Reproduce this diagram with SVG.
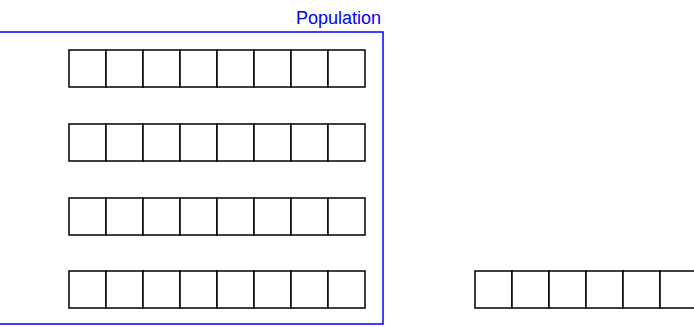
<svg xmlns="http://www.w3.org/2000/svg" width="694" height="327" viewBox="0 0 694 327">
<style>
.cell{fill:#fff;stroke:#000;stroke-width:1.5}
.pop{fill:none;stroke:#0000ff;stroke-width:1.5}
.lbl{font-family:"Liberation Sans",Arial,sans-serif;font-size:18px;fill:#0000ff}
</style>
<defs>
<g id="c"><rect class="cell" x="0" y="0" width="37" height="37"/></g>
<g id="row8">
<use href="#c" x="0"/><use href="#c" x="37"/><use href="#c" x="74"/><use href="#c" x="111"/>
<use href="#c" x="148"/><use href="#c" x="185"/><use href="#c" x="222"/><use href="#c" x="259"/>
</g>
</defs>
<g id="population">
<rect class="pop" x="-20" y="32" width="403" height="292"/>
<text class="lbl" x="381" y="24" text-anchor="end">Population</text>
</g>
<g id="row1"><use href="#row8" x="69" y="50"/></g>
<g id="row2"><use href="#row8" x="69" y="124"/></g>
<g id="row3"><use href="#row8" x="69" y="198"/></g>
<g id="row4"><use href="#row8" x="69" y="271"/></g>
<g id="row5"><use href="#row8" x="475" y="271"/></g>
<g id="connectors"/>
</svg>
